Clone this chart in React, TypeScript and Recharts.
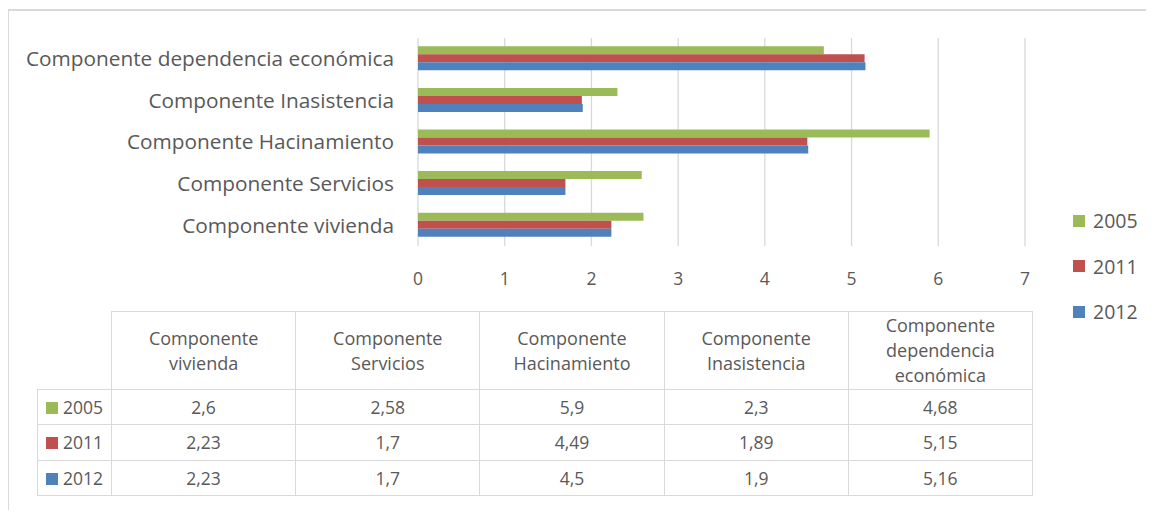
import React from "react";
import { BarChart, Bar, XAxis, YAxis, CartesianGrid } from "recharts";

const categories = [
  "Componente vivienda",
  "Componente Servicios",
  "Componente Hacinamiento",
  "Componente Inasistencia",
  "Componente dependencia económica",
];
const headerLines = [
  ["Componente", "vivienda"],
  ["Componente", "Servicios"],
  ["Componente", "Hacinamiento"],
  ["Componente", "Inasistencia"],
  ["Componente", "dependencia", "económica"],
];
const v2005 = [2.6, 2.58, 5.9, 2.3, 4.68];
const v2011 = [2.23, 1.7, 4.49, 1.89, 5.15];
const v2012 = [2.23, 1.7, 4.5, 1.9, 5.16];
const xTicks = [0, 1, 2, 3, 4, 5, 6, 7];

const series = [
  { key: "2005", values: v2005, color: "#9BBB59" },
  { key: "2011", values: v2011, color: "#C0504D" },
  { key: "2012", values: v2012, color: "#4F81BD" },
];

const FONT = "'Open Sans', Lato, sans-serif";
const TEXT = "#595959";
const LINE = "#d9d9d9";

const data = categories.map((name, i) => ({
  name,
  "2005": v2005[i],
  "2011": v2011[i],
  "2012": v2012[i],
}));

const fmt = (v: number) => String(v).replace(".", ",");

const cellStyle: React.CSSProperties = {
  border: `1.5px solid ${LINE}`,
  textAlign: "center",
  padding: 0,
  color: TEXT,
  fontSize: 18,
};

export default function App() {
  return (
    <div
      style={{
        position: "relative",
        width: 1154,
        height: 518,
        margin: -8,
        overflow: "hidden",
        background: "#fff",
        fontFamily: FONT,
      }}
    >
      {/* chart frame (top and left edges) */}
      <div style={{ position: "absolute", left: 7, top: 9, width: 1200, height: 2, background: LINE }} />
      <div style={{ position: "absolute", left: 7, top: 9, width: 2, height: 600, background: LINE }} />
      <div style={{ position: "absolute", left: 0, top: 0 }}>
        <BarChart
          width={1154}
          height={300}
          data={data}
          layout="vertical"
          margin={{ top: 38, right: 129, left: 0, bottom: 14 }}
          barCategoryGap="20%"
          barGap={0}
        >
          <CartesianGrid horizontal={false} stroke={LINE} strokeWidth={1.3} />
          <XAxis
            type="number"
            domain={[0, 7]}
            ticks={xTicks}
            axisLine={false}
            tickLine={false}
            tickSize={0}
            tickMargin={27}
            height={40}
            tick={{ fontSize: 17.5, fill: TEXT, fontFamily: FONT }}
          />
          <YAxis
            type="category"
            dataKey="name"
            reversed
            width={418}
            axisLine={false}
            tickLine={false}
            tickSize={0}
            tickMargin={24}
            tick={{ fontSize: 20.8, fill: TEXT, fontFamily: FONT }}
          />
          {series.map((s) => (
            <Bar key={s.key} dataKey={s.key} fill={s.color} isAnimationActive={false} />
          ))}
        </BarChart>
      </div>

      {/* legend */}
      <div style={{ position: "absolute", left: 1073, top: 198 }}>
        {series.map((s) => (
          <div
            key={s.key}
            style={{ display: "flex", alignItems: "center", height: 45.5, color: TEXT, fontSize: 19.5 }}
          >
            <span style={{ width: 12, height: 12, background: s.color, marginRight: 8 }} />
            {s.key}
          </div>
        ))}
      </div>

      {/* data table */}
      <table
        style={{
          position: "absolute",
          left: 37,
          top: 311,
          borderCollapse: "collapse",
          tableLayout: "fixed",
          fontFamily: FONT,
        }}
      >
        <colgroup>
          <col style={{ width: 74 }} />
          {categories.map((c) => (
            <col key={c} style={{ width: 184.2 }} />
          ))}
        </colgroup>
        <tbody>
          <tr style={{ height: 78 }}>
            <td style={{ border: "none" }} />
            {headerLines.map((lines, i) => (
              <td key={i} style={{ ...cellStyle, lineHeight: "25px" }}>
                {lines.map((l) => (
                  <div key={l}>{l}</div>
                ))}
              </td>
            ))}
          </tr>
          {series.map((s) => (
            <tr key={s.key} style={{ height: 35.3 }}>
              <td style={{ ...cellStyle, textAlign: "left", paddingLeft: 8, fontSize: 17.5 }}>
                <span
                  style={{
                    display: "inline-block",
                    width: 12,
                    height: 12,
                    background: s.color,
                    marginRight: 5,
                  }}
                />
                {s.key}
              </td>
              {s.values.map((v, i) => (
                <td key={i} style={{ ...cellStyle, fontSize: 17.5 }}>
                  {fmt(v)}
                </td>
              ))}
            </tr>
          ))}
        </tbody>
      </table>
    </div>
  );
}
